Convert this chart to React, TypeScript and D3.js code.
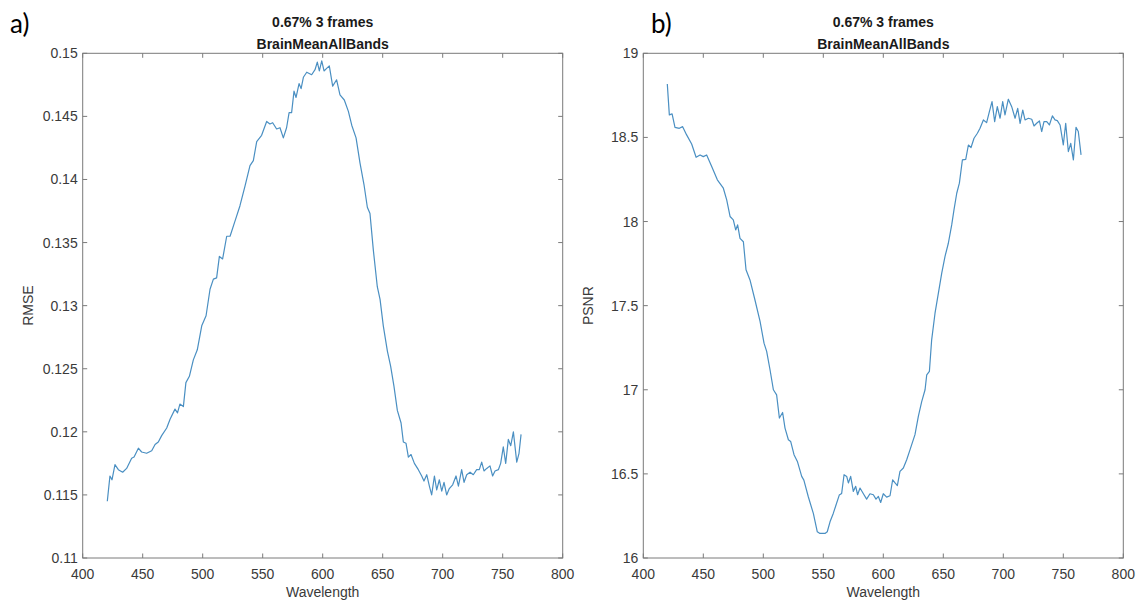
import React from "react";
import * as d3 from "d3";

const wavelengthA = [420.5,422.7,424.4,426.9,429.7,433.3,436.6,440.8,442.8,446.4,449.1,453.3,457.5,460.3,463.0,465.8,470.0,472.8,476.9,479.0,481.0,483.9,486.0,488.9,492.2,495.5,499.2,502.8,506.1,508.9,511.6,513.9,516.6,520.0,522.8,526.9,531.0,535.3,539.4,542.2,545.0,549.1,553.3,556.0,558.3,561.6,564.4,567.2,569.9,572.0,574.1,576.1,577.8,580.3,582.0,583.9,586.7,590.8,593.6,595.5,597.2,599.2,601.1,603.3,605.5,608.3,611.6,614.4,618.0,621.4,624.2,627.8,631.1,634.4,637.2,639.4,642.2,645.5,647.8,650.5,653.9,656.6,659.4,662.2,665.3,667.2,669.4,671.4,673.6,676.4,679.7,682.5,684.4,686.7,688.9,690.8,693.1,695.0,697.2,699.2,701.1,703.3,705.5,708.3,711.1,713.1,715.8,717.8,720.0,722.8,725.5,728.3,730.5,732.5,734.4,736.7,739.4,741.6,743.6,746.4,748.3,750.5,752.5,754.7,756.7,758.9,761.7,763.6,765.3];
const rmse = [0.1145,0.1165,0.1162,0.1174,0.1170,0.1168,0.1171,0.1179,0.1180,0.1187,0.1184,0.1183,0.1185,0.1190,0.1192,0.1197,0.1203,0.1210,0.1218,0.1215,0.1222,0.1220,0.1239,0.1244,0.1257,0.1265,0.1284,0.1292,0.1313,0.1321,0.1322,0.1339,0.1337,0.1355,0.1355,0.1367,0.1379,0.1395,0.1411,0.1415,0.1430,0.1435,0.1446,0.1444,0.1445,0.1440,0.1441,0.1433,0.1441,0.1453,0.1453,0.1470,0.1465,0.1476,0.1472,0.1481,0.1485,0.1483,0.1487,0.1493,0.1486,0.1494,0.1486,0.1488,0.1490,0.1474,0.1479,0.1467,0.1463,0.1454,0.1443,0.1433,0.1413,0.1396,0.1378,0.1373,0.1344,0.1315,0.1305,0.1284,0.1264,0.1252,0.1236,0.1217,0.1207,0.1192,0.1191,0.1180,0.1182,0.1175,0.1170,0.1165,0.1161,0.1166,0.1157,0.1150,0.1165,0.1154,0.1162,0.1153,0.1160,0.1150,0.1155,0.1158,0.1165,0.1157,0.1170,0.1160,0.1166,0.1168,0.1166,0.1170,0.1170,0.1176,0.1169,0.1171,0.1173,0.1165,0.1169,0.1170,0.1175,0.1188,0.1175,0.1194,0.1189,0.1200,0.1176,0.1183,0.1198];

const wavelengthB = [420.0,421.7,424.0,426.4,430.0,432.8,436.1,440.3,444.0,447.3,450.0,452.8,457.0,461.7,466.7,469.5,472.3,475.0,477.0,478.6,480.6,483.4,485.6,488.9,493.0,497.3,500.6,502.8,505.6,508.4,511.1,513.4,516.1,518.1,520.9,522.8,525.6,528.4,532.0,533.8,537.5,541.7,545.0,547.2,551.4,553.3,555.6,558.3,560.6,563.3,565.3,567.3,569.5,570.9,572.8,575.0,577.0,578.6,580.6,583.4,586.1,588.9,591.7,593.9,595.9,597.8,600.0,602.8,605.6,607.8,609.8,611.7,613.9,616.7,619.5,622.3,626.4,629.2,632.0,634.8,636.2,638.4,640.3,643.1,645.9,648.7,651.4,654.2,657.0,658.9,661.2,663.4,665.9,668.7,670.9,673.1,675.6,678.4,680.6,683.4,686.1,688.4,690.6,692.8,695.0,697.3,699.5,701.4,704.2,707.0,709.8,712.0,714.0,716.2,718.1,720.9,723.7,725.6,727.8,730.1,732.0,733.9,736.2,738.4,740.9,743.1,745.0,747.3,750.0,752.0,754.2,756.2,758.4,760.6,762.5,764.8];
const psnr = [18.818,18.634,18.640,18.560,18.554,18.564,18.515,18.461,18.382,18.396,18.386,18.396,18.327,18.248,18.198,18.129,18.030,18.010,17.950,17.980,17.900,17.880,17.713,17.653,17.535,17.406,17.277,17.228,17.119,17.000,16.970,16.832,16.865,16.772,16.703,16.693,16.614,16.574,16.485,16.463,16.364,16.265,16.156,16.146,16.146,16.156,16.215,16.265,16.315,16.374,16.384,16.495,16.485,16.446,16.485,16.396,16.426,16.376,16.416,16.382,16.350,16.382,16.376,16.350,16.366,16.330,16.382,16.362,16.370,16.465,16.446,16.430,16.515,16.535,16.584,16.644,16.733,16.842,16.930,17.000,17.089,17.109,17.297,17.455,17.574,17.693,17.792,17.871,17.980,18.069,18.168,18.228,18.366,18.370,18.455,18.440,18.495,18.525,18.554,18.604,18.588,18.653,18.713,18.594,18.683,18.614,18.713,18.634,18.727,18.683,18.614,18.673,18.584,18.663,18.604,18.614,18.608,18.568,18.584,18.598,18.535,18.594,18.594,18.574,18.628,18.604,18.600,18.574,18.455,18.584,18.416,18.465,18.366,18.560,18.535,18.396];

const xTicks = [400, 450, 500, 550, 600, 650, 700, 750, 800];
const rmseTicks = [0.11, 0.115, 0.12, 0.125, 0.13, 0.135, 0.14, 0.145, 0.15];
const rmseTickLabels = ["0.11", "0.115", "0.12", "0.125", "0.13", "0.135", "0.14", "0.145", "0.15"];
const psnrTicks = [16, 16.5, 17, 17.5, 18, 18.5, 19];
const psnrTickLabels = ["16", "16.5", "17", "17.5", "18", "18.5", "19"];

const titleLine1 = "0.67% 3 frames";
const titleLine2 = "BrainMeanAllBands";

const AXIS = "#7a7a7a";
const TEXT = "#3a3a3a";
const LINE = "#4a8fc2";
const FONT = "'Liberation Sans', Arial, Helvetica, sans-serif";

type PanelProps = {
  left: number; right: number; top: number; bottom: number;
  xs: number[]; ys: number[]; yDomain: [number, number];
  yTicks: number[]; yLabels: string[]; yTitle: string; tag: string; tagX: number;
};

function Panel(p: PanelProps) {
  const x = d3.scaleLinear().domain([400, 800]).range([p.left, p.right]);
  const y = d3.scaleLinear().domain(p.yDomain).range([p.bottom, p.top]);
  const pts = p.xs.map((w, i) => [w, p.ys[i]] as [number, number]);
  const path = d3.line<[number, number]>().x(d => x(d[0])).y(d => y(d[1]))(pts) || "";
  const tl = 4.5;
  const cx = (p.left + p.right) / 2;
  const cy = (p.top + p.bottom) / 2;
  return (
    <g>
      <text x={p.tagX} y={33} fontFamily="Lato, 'Open Sans', sans-serif" fontSize={26} fill="#000">{p.tag}</text>
      <text x={cx} y={27} textAnchor="middle" fontFamily={FONT} fontWeight="bold" fontSize={14} fill="#1a1a1a">{titleLine1}</text>
      <text x={cx} y={48.5} textAnchor="middle" fontFamily={FONT} fontWeight="bold" fontSize={14} fill="#1a1a1a">{titleLine2}</text>
      <rect x={p.left} y={p.top} width={p.right - p.left} height={p.bottom - p.top} fill="#fff" stroke={AXIS} strokeWidth={1} />
      {xTicks.map(t => (
        <g key={"x" + t}>
          <line x1={x(t)} x2={x(t)} y1={p.bottom} y2={p.bottom - tl} stroke={AXIS} />
          <line x1={x(t)} x2={x(t)} y1={p.top} y2={p.top + tl} stroke={AXIS} />
          <text x={x(t)} y={p.bottom + 21} textAnchor="middle" fontFamily={FONT} fontSize={14} fill={TEXT}>{t}</text>
        </g>
      ))}
      {p.yTicks.map((t, i) => (
        <g key={"y" + t}>
          <line x1={p.left} x2={p.left + tl} y1={y(t)} y2={y(t)} stroke={AXIS} />
          <line x1={p.right} x2={p.right - tl} y1={y(t)} y2={y(t)} stroke={AXIS} />
          <text x={p.left - 5} y={y(t) + 5} textAnchor="end" fontFamily={FONT} fontSize={14} fill={TEXT}>{p.yLabels[i]}</text>
        </g>
      ))}
      <text x={cx} y={p.bottom + 39} textAnchor="middle" fontFamily={FONT} fontSize={14} fill={TEXT}>Wavelength</text>
      <text transform={`translate(${p.left - 50},${cy}) rotate(-90)`} textAnchor="middle" fontFamily={FONT} fontSize={14} fill={TEXT}>{p.yTitle}</text>
      <path d={path} fill="none" stroke={LINE} strokeWidth={1.2} strokeLinejoin="round" />
    </g>
  );
}

export default function App() {
  return (
    <svg width={1143} height={604} style={{ position: "absolute", left: 0, top: 0, background: "#fff" }}>
      <rect x={0} y={0} width={1143} height={604} fill="#fff" />
      <Panel left={82.7} right={562.7} top={53.3} bottom={558} xs={wavelengthA} ys={rmse} yDomain={[0.11, 0.15]}
        yTicks={rmseTicks} yLabels={rmseTickLabels} yTitle="RMSE" tag="a)" tagX={10} />
      <Panel left={643.3} right={1123.3} top={53.3} bottom={558} xs={wavelengthB} ys={psnr} yDomain={[16, 19]}
        yTicks={psnrTicks} yLabels={psnrTickLabels} yTitle="PSNR" tag="b)" tagX={651} />
    </svg>
  );
}
